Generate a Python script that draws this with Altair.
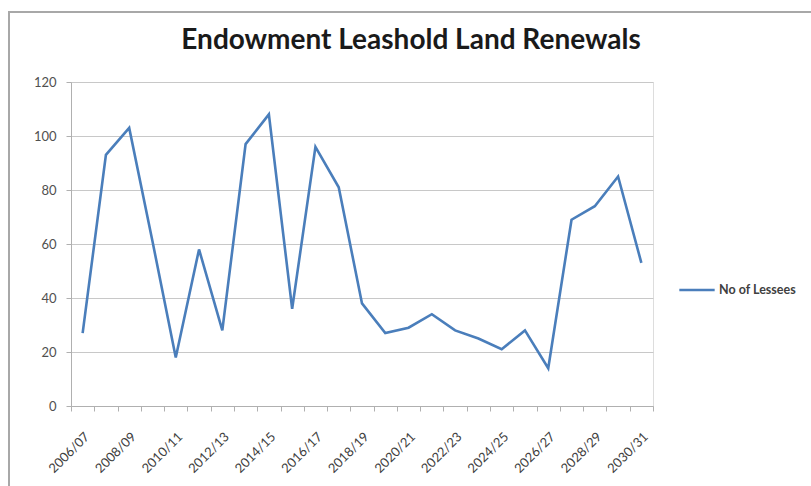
import altair as alt
import pandas as pd

periods = ["2006/07", "2007/08", "2008/09", "2009/10", "2010/11", "2011/12", "2012/13",
           "2013/14", "2014/15", "2015/16", "2016/17", "2017/18", "2018/19", "2019/20",
           "2020/21", "2021/22", "2022/23", "2023/24", "2024/25", "2025/26", "2026/27",
           "2027/28", "2028/29", "2029/30", "2030/31"]
lessees = [27, 93, 103, 61, 18, 58, 28, 97, 108, 36, 96, 81, 38, 27,
           29, 34, 28, 25, 21, 28, 14, 69, 74, 85, 53]
series_name = "No of Lessees"
shown_labels = periods[::2]
y_ticks = [0, 20, 40, 60, 80, 100, 120]

df = pd.DataFrame({"period": periods, "value": lessees, "series": series_name})

FONT = "Lato"
label_list = ",".join("'%s'" % s for s in shown_labels)

line = alt.Chart(df).mark_line(strokeWidth=2.6).encode(
    x=alt.X("period:N", sort=periods, bandPosition=0.5,
            scale=alt.Scale(type="band", paddingInner=0, paddingOuter=0),
            axis=alt.Axis(title=None, values=periods,
                          labelExpr="indexof([%s], datum.value) >= 0 ? datum.label : ''" % label_list,
                          tickBand="extent", labelAngle=-45, labelFontSize=13,
                          labelColor="#404040", labelFont=FONT, labelPadding=19,
                          tickSize=5, tickColor="#b0b0b0", domainColor="#b0b0b0",
                          labelOverlap=False, grid=False)),
    y=alt.Y("value:Q", scale=alt.Scale(domain=[0, 120], nice=False),
            axis=alt.Axis(title=None, values=y_ticks, labelFontSize=13,
                          labelColor="#505050", labelFont=FONT, labelPadding=10,
                          tickSize=5, tickColor="#b0b0b0", domainColor="#b0b0b0",
                          gridColor="#c8c8c8", gridWidth=1)),
    color=alt.Color("series:N", scale=alt.Scale(domain=[series_name], range=["#4A7EBB"]),
                    legend=alt.Legend(title=None, orient="none", legendX=607, legendY=189,
                                      symbolType="stroke", symbolSize=1250, symbolStrokeWidth=2.6,
                                      labelFont=FONT, labelFontSize=12.5, labelFontWeight="bold",
                                      labelColor="#404040", labelOffset=3)),
)

border_left = alt.Chart(df).mark_rule(color="#a8a8a8", strokeWidth=2).encode(
    x=alt.value(-62), y=alt.value(-70), y2=alt.value(420))
border_top = alt.Chart(df).mark_rule(color="#a8a8a8", strokeWidth=2).encode(
    x=alt.value(-63), x2=alt.value(760), y=alt.value(-70))

chart = alt.layer(border_left, border_top, line).properties(
    width=582, height=324,
    title=alt.TitleParams("Endowment Leashold Land Renewals", font=FONT, fontSize=28,
                          fontWeight="bold", color="#1a1a1a", offset=0, dy=72, dx=49,
                          baseline="bottom"),
    autosize=alt.AutoSizeParams(type="none"),
    padding={"left": 71, "top": 82, "right": 158, "bottom": 80},
).configure_view(stroke=None).configure(background="white")

chart.save("out.html", embed_options={"renderer": "svg", "actions": False})
